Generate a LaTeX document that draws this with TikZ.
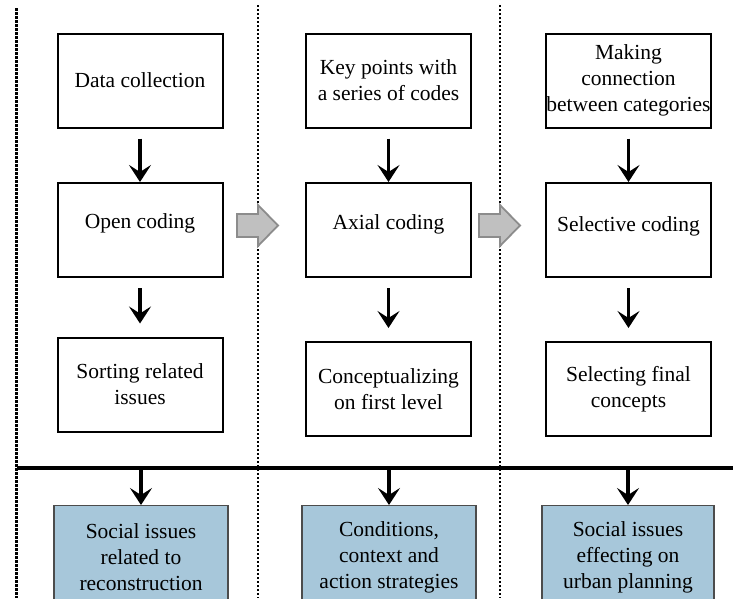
\documentclass[tikz,border=0pt]{standalone}
\usepackage{fontspec}
\setmainfont{Liberation Serif}
\usepackage{xcolor}
\usetikzlibrary{arrows.meta}
\definecolor{resultblue}{RGB}{167,199,218}
\definecolor{handgray}{RGB}{192,192,192}
\definecolor{handedge}{RGB}{140,140,140}

\begin{document}
\begin{tikzpicture}[x=1pt, y=-1pt,
		codebox/.style={draw=black, line width=2pt, fill=white, minimum width=165pt, minimum height=94pt, inner sep=0pt, align=center, font=\fontsize{21.5}{26}\selectfont},
		resultbox/.style={codebox, draw=black!70, line width=1.2pt, fill=resultblue, minimum width=174pt, minimum height=104pt, anchor=north},
		flowarrow/.style={line width=3.2pt, -{Stealth[length=17pt,width=22pt,inset=7pt]}},
		colsep/.style={line width=2.2pt, dash pattern=on 2pt off 2pt},
		handover/.style={draw=handedge, line width=1.8pt, fill=handgray, line join=miter}]
			\clip (0,0) rectangle (733,598);
			\draw[colsep, line width=3pt, dash pattern=on 2.5pt off 1.5pt] (16,8)--(16,598);
			\foreach \x in {258,500}
				\draw[colsep] (\x,5)--(\x,598);
			\foreach \x in {237,479}
				\draw[handover] (\x,214)--++(21,0)--++(0,-9)--++(20,20.5)--++(-20,20.5)--++(0,-9)--++(-21,0)--cycle;
			\node[codebox] (collect) at (140,80.5) {Data collection};
			\node[codebox, text depth=18pt] (open) at (140,230) {Open coding};
			\node[codebox] (sort) at (140,384.5) {Sorting related\\issues};
			\node[codebox] (keypoints) at (388.5,80.5) {Key points with\\a series of codes};
			\node[codebox, text depth=16pt] (axial) at (388.5,230) {Axial coding};
			\node[codebox] (concept) at (388.5,389) {Conceptualizing\\on first level};
			\node[codebox] (connect) at (628.5,80.5) {Making\\connection\\between categories};
			\node[codebox, text depth=12pt] (selective) at (628.5,230) {Selective coding};
			\node[codebox] (final) at (628.5,389) {Selecting final\\concepts};
			\node[resultbox] (social) at (141,505) {Social issues\\related to\\reconstruction};
			\node[resultbox] (conditions) at (389,505) {Conditions,\\context and\\action strategies};
			\node[resultbox, minimum width=172pt] (planning) at (628,505) {Social issues\\effecting on\\urban planning};
			\coordinate (rulestart) at (17,468);
			\coordinate (ruleend) at (733,468);
			\draw[line width=4pt] (rulestart)--(ruleend);
			\foreach \a/\b in {collect/open, keypoints/axial, connect/selective}
				\draw[flowarrow, shorten <=10pt] (\a.south)--(\b.north);
			\foreach \a/\b in {open/sort, axial/concept, selective/final}
				\draw[flowarrow, shorten <=10pt, shorten >=13pt] (\a.south)--(\b.north);
			\foreach \b in {social, conditions, planning}
				\draw[flowarrow] (\b.north |- rulestart)--(\b.north);
\end{tikzpicture}
\end{document}
